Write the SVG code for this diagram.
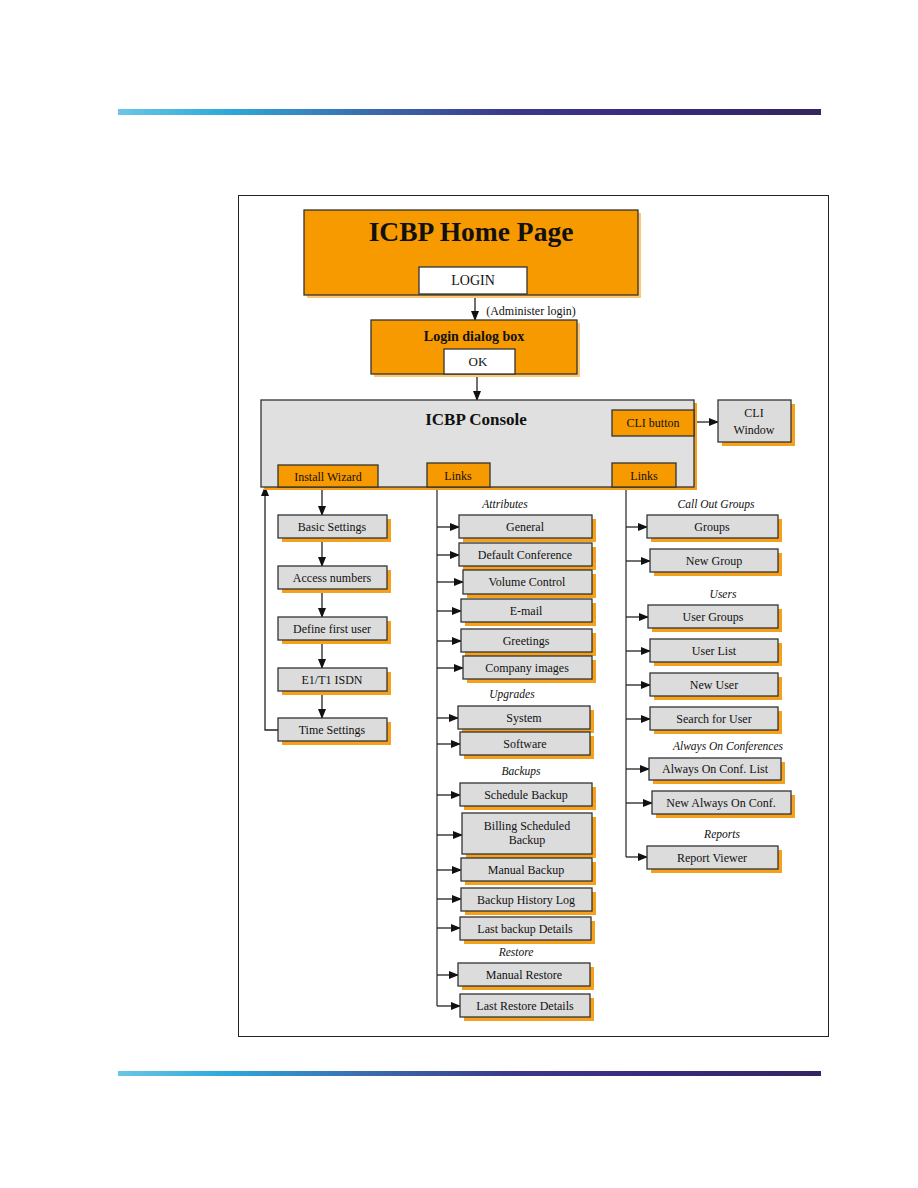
<svg xmlns="http://www.w3.org/2000/svg" width="918" height="1188" viewBox="0 0 918 1188">
<defs>
<linearGradient id="bar" x1="0" y1="0" x2="1" y2="0">
<stop offset="0" stop-color="#6cc6e4"/>
<stop offset="0.15" stop-color="#2eaadc"/>
<stop offset="0.35" stop-color="#3a6db0"/>
<stop offset="0.55" stop-color="#3b3a8c"/>
<stop offset="0.75" stop-color="#3a2a80"/>
<stop offset="1" stop-color="#342560"/>
</linearGradient>
<marker id="ah" markerWidth="10" markerHeight="8" refX="9" refY="4" orient="auto" markerUnits="userSpaceOnUse">
<path d="M0,0 L10,4 L0,8 Z" fill="#111"/>
</marker>
<style>
.t{font-family:"Liberation Serif","Times New Roman",serif;fill:#111;text-anchor:middle}
.b{font-size:12px}
.it{font-size:11.5px;font-style:italic}
.box{fill:#dcdcdc;stroke:#333;stroke-width:1.3}
.sh{fill:#f5a11c}
.or{fill:#f79a00;stroke:#333;stroke-width:1.3}
.osh{fill:#ffc870}
.wh{fill:#fff;stroke:#333;stroke-width:1.3}
.ln{stroke:#333;stroke-width:1.3;fill:none}
.ar{stroke:#222;stroke-width:1.3;fill:none;marker-end:url(#ah)}
</style>
</defs>
<rect width="918" height="1188" fill="#fff"/>
<rect x="118" y="109" width="703" height="6" fill="url(#bar)"/>
<rect x="118" y="1071" width="703" height="5" fill="url(#bar)"/>
<rect x="238.5" y="195.5" width="590" height="841" fill="none" stroke="#222" stroke-width="1"/>

<g id="connectors">
<path class="ar" d="M475,294 V320"/>
<path class="ar" d="M477,374 V400"/>
<path class="ar" d="M694,422 H718"/>
<path class="ar" d="M322,487 V515"/>
<path class="ar" d="M322,538 V566"/>
<path class="ar" d="M322,589 V617"/>
<path class="ar" d="M322,640 V668"/>
<path class="ar" d="M322,691 V718"/>
<path class="ar" d="M278,730 H265 V487"/>
<path class="ln" d="M437,487 V1006"/>
<path class="ar" d="M437,527 H459"/>
<path class="ar" d="M437,555 H459"/>
<path class="ar" d="M437,582 H463"/>
<path class="ar" d="M437,611 H461"/>
<path class="ar" d="M437,641 H461"/>
<path class="ar" d="M437,668 H463"/>
<path class="ar" d="M437,718 H458"/>
<path class="ar" d="M437,744 H460"/>
<path class="ar" d="M437,795 H460"/>
<path class="ar" d="M437,835 H462"/>
<path class="ar" d="M437,870 H461"/>
<path class="ar" d="M437,899 H461"/>
<path class="ar" d="M437,928 H460"/>
<path class="ar" d="M437,975 H458"/>
<path class="ar" d="M437,1006 H460"/>
<path class="ln" d="M626,487 V857"/>
<path class="ar" d="M626,527 H647"/>
<path class="ar" d="M626,561 H650"/>
<path class="ar" d="M626,617 H648"/>
<path class="ar" d="M626,651 H650"/>
<path class="ar" d="M626,685 H650"/>
<path class="ar" d="M626,719 H650"/>
<path class="ar" d="M626,769 H649"/>
<path class="ar" d="M626,803 H652"/>
<path class="ar" d="M626,857 H647"/>
</g>

<text class="t" x="531" y="315" style="font-size:12px">(Administer login)</text>

<g id="home">
<rect class="osh" x="307" y="213" width="334" height="85"/>
<rect class="or" x="304" y="210" width="334" height="85"/>
<text class="t" x="471" y="241" style="font-size:27.5px;font-weight:bold">ICBP Home Page</text>
<rect class="wh" x="419" y="267" width="108" height="27"/>
<text class="t" x="473" y="285" style="font-size:14px">LOGIN</text>
</g>

<g id="login">
<rect class="osh" x="374" y="323" width="206" height="54"/>
<rect class="or" x="371" y="320" width="206" height="54"/>
<text class="t" x="474" y="341" style="font-size:14px;font-weight:bold">Login dialog box</text>
<rect class="wh" x="444" y="349" width="71" height="25"/>
<text class="t" x="478" y="366" style="font-size:13px">OK</text>
</g>

<g id="console">
<rect x="264" y="403" width="433" height="87" fill="#f5a11c"/>
<rect class="box" x="261" y="400" width="433" height="87" style="fill:#e0e0e0"/>
<text class="t" x="476" y="425" style="font-size:17px;font-weight:bold">ICBP Console</text>
</g>
<g id="cli-button">
<rect class="or" x="612" y="410" width="82" height="26"/>
<text class="t" x="653" y="427" style="font-size:12px">CLI button</text>
</g>
<g id="cli-window">
<rect class="sh" x="722" y="404" width="73" height="42"/>
<rect class="box" x="718" y="400" width="73" height="42"/>
<text class="t b" x="754" y="417">CLI</text>
<text class="t b" x="754" y="434">Window</text>
</g>
<g id="install-wizard">
<rect class="or" x="278" y="465" width="100" height="22"/>
<text class="t b" x="328" y="481">Install Wizard</text>
</g>
<g id="links1">
<rect class="or" x="427" y="463" width="63" height="24"/>
<text class="t b" x="458" y="480">Links</text>
</g>
<g id="links2">
<rect class="or" x="612" y="463" width="64" height="24"/>
<text class="t b" x="644" y="480">Links</text>
</g>

<g id="basic-settings"><rect class="sh" x="282" y="519" width="109" height="23"/><rect class="box" x="278" y="515" width="109" height="23"/><text class="t b" x="332" y="531">Basic Settings</text></g>
<g id="access-numbers"><rect class="sh" x="282" y="570" width="109" height="23"/><rect class="box" x="278" y="566" width="109" height="23"/><text class="t b" x="332" y="582">Access numbers</text></g>
<g id="define-first-user"><rect class="sh" x="282" y="621" width="109" height="23"/><rect class="box" x="278" y="617" width="109" height="23"/><text class="t b" x="332" y="633">Define first user</text></g>
<g id="e1t1-isdn"><rect class="sh" x="282" y="672" width="109" height="23"/><rect class="box" x="278" y="668" width="109" height="23"/><text class="t b" x="332" y="684">E1/T1 ISDN</text></g>
<g id="time-settings"><rect class="sh" x="282" y="722" width="109" height="23"/><rect class="box" x="278" y="718" width="109" height="23"/><text class="t b" x="332" y="734">Time Settings</text></g>

<text class="t it" x="505" y="508">Attributes</text>
<g id="general"><rect class="sh" x="463" y="519" width="133" height="23"/><rect class="box" x="459" y="515" width="133" height="23"/><text class="t b" x="525" y="531">General</text></g>
<g id="default-conference"><rect class="sh" x="463" y="547" width="133" height="23"/><rect class="box" x="459" y="543" width="133" height="23"/><text class="t b" x="525" y="559">Default Conference</text></g>
<g id="volume-control"><rect class="sh" x="467" y="574" width="129" height="24"/><rect class="box" x="463" y="570" width="129" height="24"/><text class="t b" x="527" y="586">Volume Control</text></g>
<g id="email"><rect class="sh" x="465" y="603" width="131" height="23"/><rect class="box" x="461" y="599" width="131" height="23"/><text class="t b" x="526" y="615">E-mail</text></g>
<g id="greetings"><rect class="sh" x="465" y="633" width="131" height="23"/><rect class="box" x="461" y="629" width="131" height="23"/><text class="t b" x="526" y="645">Greetings</text></g>
<g id="company-images"><rect class="sh" x="467" y="660" width="129" height="23"/><rect class="box" x="463" y="656" width="129" height="23"/><text class="t b" x="527" y="672">Company images</text></g>
<text class="t it" x="512" y="698">Upgrades</text>
<g id="system"><rect class="sh" x="462" y="710" width="132" height="23"/><rect class="box" x="458" y="706" width="132" height="23"/><text class="t b" x="524" y="722">System</text></g>
<g id="software"><rect class="sh" x="464" y="736" width="130" height="23"/><rect class="box" x="460" y="732" width="130" height="23"/><text class="t b" x="525" y="748">Software</text></g>
<text class="t it" x="521" y="775">Backups</text>
<g id="schedule-backup"><rect class="sh" x="464" y="787" width="132" height="23"/><rect class="box" x="460" y="783" width="132" height="23"/><text class="t b" x="526" y="799">Schedule Backup</text></g>
<g id="billing-scheduled-backup"><rect class="sh" x="466" y="817" width="130" height="41"/><rect class="box" x="462" y="813" width="130" height="41"/><text class="t b" x="527" y="830">Billing Scheduled</text><text class="t b" x="527" y="844">Backup</text></g>
<g id="manual-backup"><rect class="sh" x="465" y="862" width="131" height="23"/><rect class="box" x="461" y="858" width="131" height="23"/><text class="t b" x="526" y="874">Manual Backup</text></g>
<g id="backup-history-log"><rect class="sh" x="465" y="892" width="131" height="23"/><rect class="box" x="461" y="888" width="131" height="23"/><text class="t b" x="526" y="904">Backup History Log</text></g>
<g id="last-backup-details"><rect class="sh" x="464" y="921" width="131" height="23"/><rect class="box" x="460" y="917" width="131" height="23"/><text class="t b" x="525" y="933">Last backup Details</text></g>
<text class="t it" x="516" y="956">Restore</text>
<g id="manual-restore"><rect class="sh" x="462" y="967" width="132" height="23"/><rect class="box" x="458" y="963" width="132" height="23"/><text class="t b" x="524" y="979">Manual Restore</text></g>
<g id="last-restore-details"><rect class="sh" x="464" y="998" width="130" height="23"/><rect class="box" x="460" y="994" width="130" height="23"/><text class="t b" x="525" y="1010">Last Restore Details</text></g>

<text class="t it" x="716" y="508">Call Out Groups</text>
<g id="groups"><rect class="sh" x="651" y="519" width="131" height="23"/><rect class="box" x="647" y="515" width="131" height="23"/><text class="t b" x="712" y="531">Groups</text></g>
<g id="new-group"><rect class="sh" x="654" y="553" width="128" height="23"/><rect class="box" x="650" y="549" width="128" height="23"/><text class="t b" x="714" y="565">New Group</text></g>
<text class="t it" x="723" y="598">Users</text>
<g id="user-groups"><rect class="sh" x="652" y="609" width="130" height="23"/><rect class="box" x="648" y="605" width="130" height="23"/><text class="t b" x="713" y="621">User Groups</text></g>
<g id="user-list"><rect class="sh" x="654" y="643" width="128" height="23"/><rect class="box" x="650" y="639" width="128" height="23"/><text class="t b" x="714" y="655">User List</text></g>
<g id="new-user"><rect class="sh" x="654" y="677" width="128" height="23"/><rect class="box" x="650" y="673" width="128" height="23"/><text class="t b" x="714" y="689">New User</text></g>
<g id="search-for-user"><rect class="sh" x="654" y="711" width="128" height="23"/><rect class="box" x="650" y="707" width="128" height="23"/><text class="t b" x="714" y="723">Search for User</text></g>
<text class="t it" x="728" y="750">Always On Conferences</text>
<g id="always-on-list"><rect class="sh" x="653" y="762" width="132" height="22"/><rect class="box" x="649" y="758" width="132" height="22"/><text class="t b" x="715" y="773">Always On Conf. List</text></g>
<g id="new-always-on"><rect class="sh" x="656" y="795" width="139" height="23"/><rect class="box" x="652" y="791" width="139" height="23"/><text class="t b" x="721" y="807">New Always On Conf.</text></g>
<text class="t it" x="722" y="838">Reports</text>
<g id="report-viewer"><rect class="sh" x="651" y="850" width="131" height="23"/><rect class="box" x="647" y="846" width="131" height="23"/><text class="t b" x="712" y="862">Report Viewer</text></g>
</svg>
